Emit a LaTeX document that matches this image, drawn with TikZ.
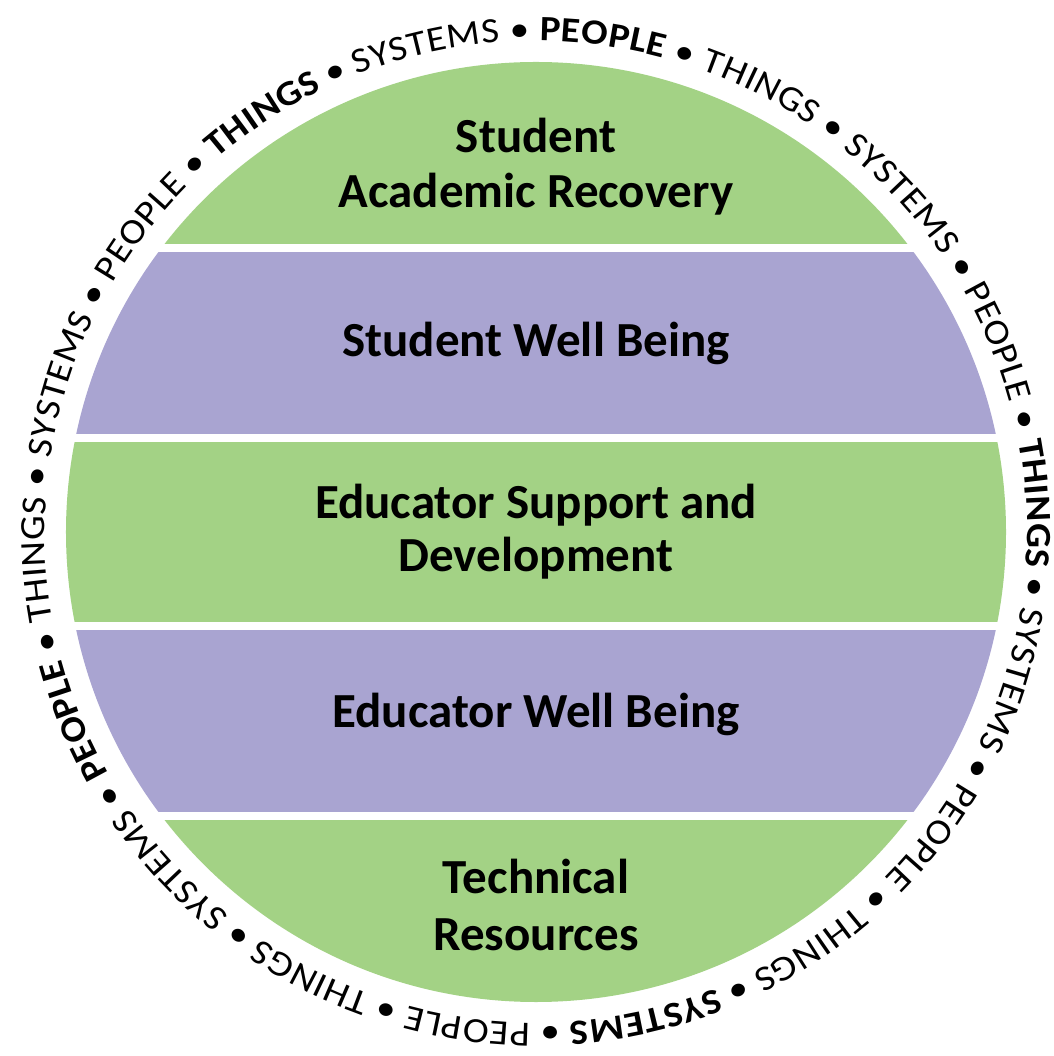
\documentclass[tikz,border=0pt]{standalone}
\usepackage{fontspec}
\setmainfont{Carlito}
\newfontfamily\ringfont[FakeStretch=1.1]{Carlito}
\usetikzlibrary{decorations.text}
\definecolor{bandgreen}{RGB}{163,210,133}
\definecolor{bandpurple}{RGB}{169,164,209}
\newcommand\rn{\ringfont\fontsize{35.5pt}{40pt}\selectfont\mdseries}
\newcommand\rb{\ringfont\fontsize{35.5pt}{40pt}\selectfont\bfseries}
\begin{document}
\begin{tikzpicture}[x=1pt,y=1pt,
  bandtext/.style={font=\bfseries\fontsize{49pt}{54pt}\selectfont, text=black, inner sep=0pt, anchor=base}]
\useasboundingbox (-536,-524) rectangle (517,532);
\begin{scope}
  \clip (0,0) circle (470pt);
  \fill[bandgreen]  (-480,288)  rectangle (480,480);
  \fill[bandpurple] (-480,98)   rectangle (480,280);
  \fill[bandgreen]  (-480,-90)  rectangle (480,90);
  \fill[bandpurple] (-480,-280) rectangle (480,-98);
  \fill[bandgreen]  (-480,-480) rectangle (480,-288);
\end{scope}
\node[bandtext] (sar1) at (0,379) {Student};
\node[bandtext] (sar2) at (0,324) {Academic Recovery};
\node[bandtext] (swb)  at (0,175) {Student Well Being};
\node[bandtext] (esd1) at (0,13)  {Educator Support and};
\node[bandtext] (esd2) at (0,-40) {Development};
\node[bandtext] (ewb)  at (0,-195) {Educator Well Being};
\node[bandtext] (tr1)  at (0,-361) {Technical};
\node[bandtext] (tr2)  at (0,-418) {Resources};
\path[decorate, decoration={text along path, text align={fit to path},
  text={|\rn|SYSTEMS • |\rb|PEOPLE|\rn| • THINGS • SYSTEMS • PEOPLE • |\rb|THINGS|\rn| • SYSTEMS • PEOPLE • THINGS • |\rb|SYSTEMS|\rn| • PEOPLE • THINGS • SYSTEMS • |\rb|PEOPLE|\rn| • THINGS • SYSTEMS • PEOPLE • |\rb|THINGS|\rn| •}}]
  (111.4:491pt) arc[start angle=111.4, end angle=-247.5, radius=491pt];
\end{tikzpicture}
\end{document}
